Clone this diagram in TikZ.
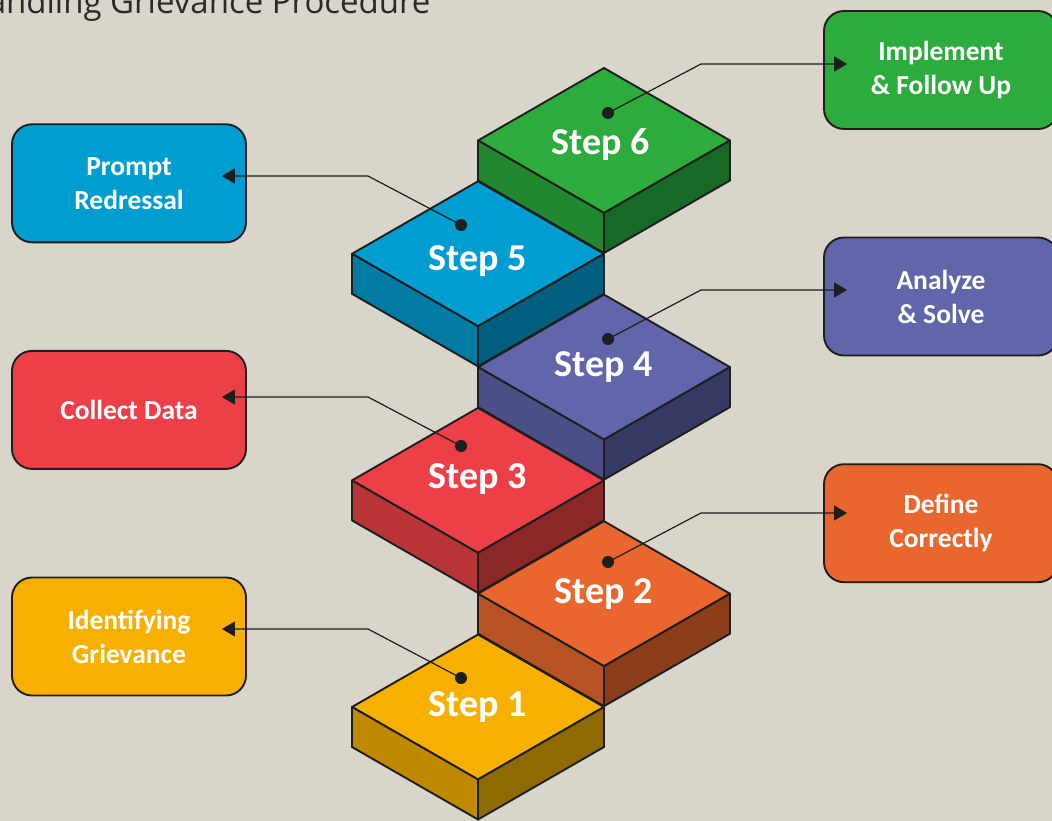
\documentclass[tikz,border=0pt]{standalone}
\usepackage{fontspec}
\setmainfont{Carlito}
\newfontfamily\titlefont{Open Sans}
\usetikzlibrary{calc,arrows.meta}

\definecolor{bg}{HTML}{D9D5CA}
\definecolor{outl}{HTML}{1E1E1E}
\definecolor{titlegray}{HTML}{2A2A2A}
\definecolor{yelT}{HTML}{F7B000}
\definecolor{yelL}{HTML}{BF8A00}
\definecolor{yelR}{HTML}{8F6A00}
\definecolor{oraT}{HTML}{E9672E}
\definecolor{oraL}{HTML}{B85326}
\definecolor{oraR}{HTML}{8B3D1A}
\definecolor{redT}{HTML}{EC3F48}
\definecolor{redL}{HTML}{B93437}
\definecolor{redR}{HTML}{8B2828}
\definecolor{purT}{HTML}{6165A9}
\definecolor{purL}{HTML}{4B4F88}
\definecolor{purR}{HTML}{383A66}
\definecolor{bluT}{HTML}{009DD1}
\definecolor{bluL}{HTML}{007BA4}
\definecolor{bluR}{HTML}{005E7E}
\definecolor{grnT}{HTML}{2DAB3C}
\definecolor{grnL}{HTML}{22882F}
\definecolor{grnR}{HTML}{176A25}

\begin{document}
\begin{tikzpicture}[x=1pt, y=-1pt,
    blkline/.style={draw=outl, line width=1.9pt, line join=round},
    steptext/.style={text=white, font=\bfseries\fontsize{38}{44}\selectfont},
    box/.style={draw=outl, line width=1.9pt, rounded corners=20pt, minimum width=234pt,
      minimum height=118pt, align=center, text=white, font=\bfseries\fontsize{27.5}{34}\selectfont},
    dot/.style={circle, fill=outl, inner sep=0pt, minimum size=12pt},
    link/.style={draw=outl, line width=1.2pt, -{Triangle[length=13pt,width=15pt]}},
    pics/blk/.style args={#1/#2/#3}{code={
      \filldraw[fill=#1, blkline] (-126,0) -- (0,-72.5) -- (126,0) -- (0,72.5) -- cycle;
      \filldraw[fill=#2, blkline] (-126,0) -- (0,72.5) -- (0,112.5) -- (-126,40) -- cycle;
      \filldraw[fill=#3, blkline] (0,72.5) -- (126,0) -- (126,40) -- (0,112.5) -- cycle;
    }}]
  \fill[bg] (0,0) rectangle (1052,821);
  \useasboundingbox (0,0) rectangle (1052,821);

  \node[anchor=base east, text=titlegray, font=\titlefont\fontsize{33}{40}\selectfont]
    (title) at (434,14) {Handling Grievance Procedure};

  % the stairs, top step first
  \pic at (604,140.5) {blk={grnT/grnL/grnR}};
  \pic at (478,253.8) {blk={bluT/bluL/bluR}};
  \pic at (604,367.1) {blk={purT/purL/purR}};
  \pic at (478,480.4) {blk={redT/redL/redR}};
  \pic at (604,593.7) {blk={oraT/oraL/oraR}};
  \pic at (478,707) {blk={yelT/yelL/yelR}};

  \node[steptext] (s1) at (478,707) {Step 1};
  \node[steptext] (s2) at (604,593.7) {Step 2};
  \node[steptext] (s3) at (478,479.4) {Step 3};
  \node[steptext] (s4) at (604,367.1) {Step 4};
  \node[steptext] (s5) at (478,260.8) {Step 5};
  \node[steptext] (s6) at (601,144.5) {Step 6};

  % labels
  \node[box, fill=yelT] (b1) at (129,636.5) {Identifying\\Grievance};
  \node[box, fill=oraT] (b2) at (941,523.2) {Define\\Correctly};
  \node[box, fill=redT] (b3) at (129,409.9) {Collect Data};
  \node[box, fill=purT] (b4) at (941,296.5) {Analyze\\\& Solve};
  \node[box, fill=bluT] (b5) at (129,183.3) {Prompt\\Redressal};
  \node[box, fill=grnT] (b6) at (941,70) {Implement\\\& Follow Up};

  \node[dot] (d1) at (461,678) {};
  \node[dot] (d2) at (608,562) {};
  \node[dot] (d3) at (461,446) {};
  \node[dot] (d4) at (608,339) {};
  \node[dot] (d5) at (461,225) {};
  \node[dot] (d6) at (608,113) {};

  \coordinate (k1) at ($(d1)+(-93,-49)$);
  \coordinate (k2) at ($(d2)+(93,-49)$);
  \coordinate (k3) at ($(d3)+(-93,-49)$);
  \coordinate (k4) at ($(d4)+(93,-49)$);
  \coordinate (k5) at ($(d5)+(-93,-49)$);
  \coordinate (k6) at ($(d6)+(93,-49)$);

  \coordinate (t1) at ($(k1 -| b1.east)+(-25,0)$);
  \coordinate (t2) at ($(k2 -| b2.west)+(24,0)$);
  \coordinate (t3) at ($(k3 -| b3.east)+(-25,0)$);
  \coordinate (t4) at ($(k4 -| b4.west)+(24,0)$);
  \coordinate (t5) at ($(k5 -| b5.east)+(-25,0)$);
  \coordinate (t6) at ($(k6 -| b6.west)+(24,0)$);

  \draw[link] (d1.center) -- (k1) -- (t1);
  \draw[link] (d2.center) -- (k2) -- (t2);
  \draw[link] (d3.center) -- (k3) -- (t3);
  \draw[link] (d4.center) -- (k4) -- (t4);
  \draw[link] (d5.center) -- (k5) -- (t5);
  \draw[link] (d6.center) -- (k6) -- (t6);
\end{tikzpicture}
\end{document}
